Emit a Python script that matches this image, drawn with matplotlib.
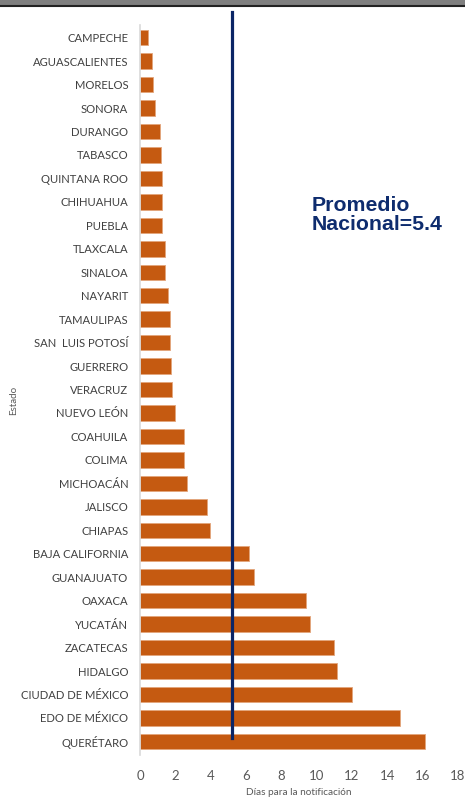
import matplotlib
matplotlib.use("Agg")
import matplotlib.pyplot as plt
from matplotlib.patches import Rectangle
from matplotlib.lines import Line2D

estados = ["CAMPECHE", "AGUASCALIENTES", "MORELOS", "SONORA", "DURANGO", "TABASCO",
           "QUINTANA ROO", "CHIHUAHUA", "PUEBLA", "TLAXCALA", "SINALOA", "NAYARIT",
           "TAMAULIPAS", "SAN  LUIS POTOSÍ", "GUERRERO", "VERACRUZ", "NUEVO LEÓN",
           "COAHUILA", "COLIMA", "MICHOACÁN", "JALISCO", "CHIAPAS", "BAJA CALIFORNIA",
           "GUANAJUATO", "OAXACA", "YUCATÁN", "ZACATECAS", "HIDALGO",
           "CIUDAD DE MÉXICO", "EDO DE MÉXICO", "QUERÉTARO"]
dias = [0.45, 0.66, 0.72, 0.87, 1.11, 1.17, 1.23, 1.23, 1.23, 1.42, 1.40, 1.57,
        1.70, 1.70, 1.76, 1.81, 1.96, 2.49, 2.49, 2.64, 3.80, 3.95, 6.16, 6.46,
        9.42, 9.63, 10.97, 11.16, 12.01, 14.73, 16.13]
promedio_linea = 5.2
promedio_texto = "Promedio\nNacional=5.4"
xticks = [0, 2, 4, 6, 8, 10, 12, 14, 16, 18]

W, H = 465, 799
fig = plt.figure(figsize=(W / 100, H / 100), dpi=100)
fam = ["Lato", "DejaVu Sans"]

# top grey banner
fig.patches.append(Rectangle((0, 1 - 5 / H), 1, 5 / H, transform=fig.transFigure,
                             facecolor="#7f7f7f", edgecolor="none"))
fig.lines.append(Line2D([0, 1], [1 - 6 / H, 1 - 6 / H], transform=fig.transFigure,
                        color="#222222", lw=1.5))

n = len(estados)
top_px, bot_px = 25, 755
ax = fig.add_axes([140 / W, 1 - bot_px / H, (458 - 140) / W, (bot_px - top_px) / H])
ypos = list(range(n))
ax.barh(ypos, dias, height=0.66, color="#C55A11", edgecolor="#E3A57C", linewidth=0.6)
ax.set_xlim(0, 18)
ax.set_ylim(n - 1 + 0.58, -0.54)
ax.set_yticks(ypos)
ax.set_yticklabels(estados, fontsize=8.1, color="#404040", family=fam)
ax.set_xticks(xticks)
ax.set_xticklabels([str(t) for t in xticks], fontsize=9.5, color="#595959", family=fam)
ax.tick_params(axis="both", length=0)
ax.tick_params(axis="y", pad=8.5)
ax.tick_params(axis="x", pad=11)
for s in ["top", "right", "bottom"]:
    ax.spines[s].set_visible(False)
ax.spines["left"].set_color("#d9d9d9")
ax.spines["left"].set_linewidth(1.2)

ax.set_xlabel("Días para la notificación", fontsize=7.2, color="#595959", family=fam,
              labelpad=4)

fig.text(14 / W, 1 - 400 / H, "Estado", rotation=90, fontsize=7, color="#595959",
         family=fam, ha="center", va="center")

# promedio line
fig.canvas.draw()
x_fig = ax.transData.transform((promedio_linea, 0))[0] / W
fig.lines.append(Line2D([x_fig, x_fig], [1 - 12 / H, 1 - 738 / H],
                        transform=fig.transFigure, color="#0B2566", lw=2.3))

fig.text(312 / W, 1 - 215 / H, promedio_texto, fontsize=15.3, fontweight="bold",
         color="#0E2C6E", family=["Liberation Sans", "DejaVu Sans"],
         ha="left", va="center", linespacing=0.95)

fig.savefig("out.png", dpi=100)
